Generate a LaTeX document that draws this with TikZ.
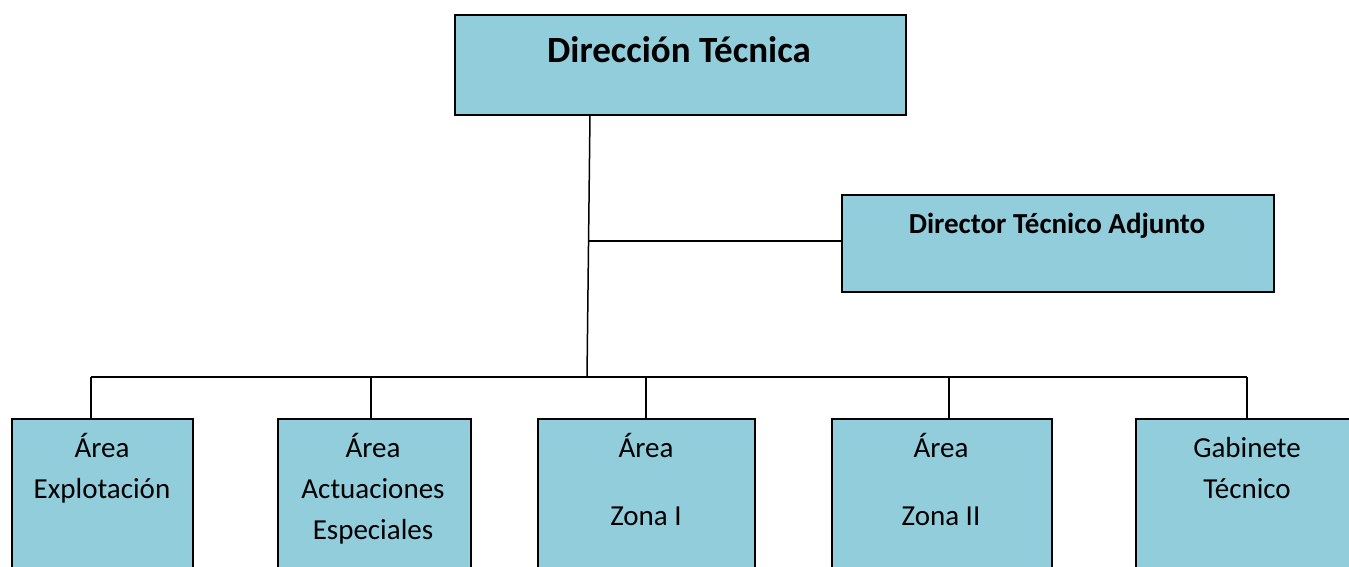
\documentclass[tikz,border=0pt]{standalone}
\usepackage{fontspec}
\setmainfont{Carlito}
\definecolor{boxblue}{HTML}{92CDDC}
\begin{document}
\begin{tikzpicture}[x=1pt,y=-1pt,
 box/.style={draw=black, fill=boxblue, line width=1.5pt, rectangle, inner sep=0pt, anchor=north west},
 conn/.style={draw=black, line width=1.5pt},
 ttl/.style={font=\fontsize{37}{44}\selectfont\bfseries, anchor=base, inner sep=0pt},
 subttl/.style={font=\fontsize{29}{35}\selectfont\bfseries, anchor=base, inner sep=0pt},
 lbl/.style={font=\fontsize{29}{35}\selectfont, anchor=base, inner sep=0pt}]
\useasboundingbox (0,0) rectangle (1349,566);
\clip (0,0) rectangle (1349,566);
% boxes
\node[box, minimum width=451pt, minimum height=100pt] (top) at (454,14) {};
\node[box, minimum width=432pt, minimum height=97pt] (adj) at (841,194) {};
\node[box, minimum width=181pt, minimum height=200pt] (b1) at (11,418) {};
\node[box, minimum width=193pt, minimum height=200pt] (b2) at (277,418) {};
\node[box, minimum width=217pt, minimum height=200pt] (b3) at (537,418) {};
\node[box, minimum width=220pt, minimum height=200pt] (b4) at (831,418) {};
\node[box, minimum width=240pt, minimum height=200pt] (b5) at (1135,418) {};
% texts
\node[ttl] (ttop) at (679,62) {Dirección Técnica};
\node[subttl] (tadj) at (1057,233) {Director Técnico Adjunto};
\node[lbl] (t1a) at (102,457) {Área};
\node[lbl] (t1b) at (102,498) {Explotación};
\node[lbl] (t2a) at (373,457) {Área};
\node[lbl] (t2b) at (373,498) {Actuaciones};
\node[lbl] (t2c) at (373,539) {Especiales};
\node[lbl] (t3a) at (646,457) {Área};
\node[lbl] (t3b) at (646,525) {Zona I};
\node[lbl] (t4a) at (941,457) {Área};
\node[lbl] (t4b) at (941,525) {Zona II};
\node[lbl] (t5a) at (1247,457) {Gabinete};
\node[lbl] (t5b) at (1247,498) {Técnico};
% connectors
\coordinate (stemtop) at (590,114);
\coordinate (adjj) at (589,241);
\coordinate (busmid) at (587,377);
\coordinate (busL) at (91,377);
\coordinate (busR) at (1247,377);
\coordinate (d2) at (371,377);
\coordinate (d3) at (646,377);
\coordinate (d4) at (949,377);
\draw[conn] (stemtop) -- (busmid);
\draw[conn] (adjj) -- (adj.west |- adjj);
\draw[conn] (busL) -- (busR);
\draw[conn] (busL) -- (busL |- b1.north);
\draw[conn] (d2) -- (d2 |- b2.north);
\draw[conn] (d3) -- (d3 |- b3.north);
\draw[conn] (d4) -- (d4 |- b4.north);
\draw[conn] (busR) -- (busR |- b5.north);
\end{tikzpicture}
\end{document}
